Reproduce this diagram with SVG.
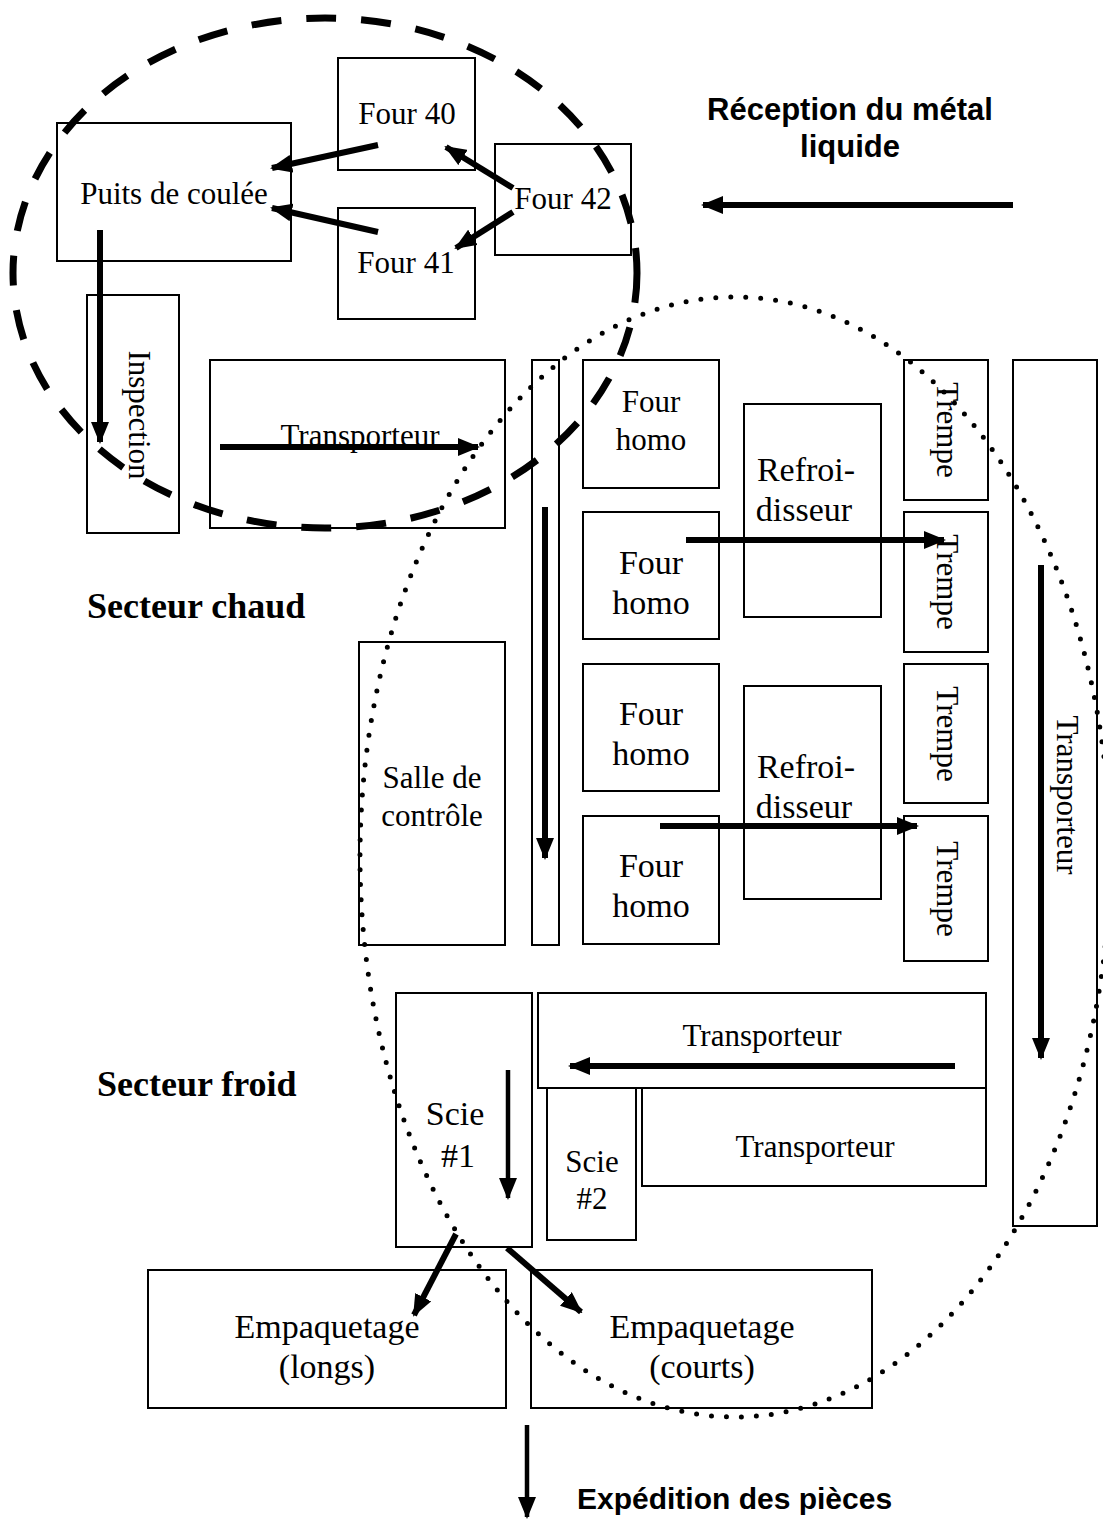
<svg xmlns="http://www.w3.org/2000/svg" width="1103" height="1519" viewBox="0 0 1103 1519">
<defs>
<style>
.box{fill:none;stroke:#000;stroke-width:2}
.lbl{font-family:"Liberation Serif","Times New Roman",serif;font-size:31px;fill:#000;text-anchor:middle}
.big{font-size:34px}
.sect{font-family:"Liberation Serif","Times New Roman",serif;font-size:36px;font-weight:bold;fill:#000}
.note{font-family:"Liberation Sans",Arial,sans-serif;font-weight:bold;fill:#000}
.arr{stroke:#000;stroke-width:6;fill:none;marker-end:url(#ah)}
.thin{stroke-width:4.5}
.zone{fill:none;stroke:#000}
</style>
<marker id="ah" viewBox="0 0 22 18" refX="20" refY="9" markerWidth="22" markerHeight="18" markerUnits="userSpaceOnUse" orient="auto">
<path d="M0,0 L22,9 L0,18 z" fill="#000"/>
</marker>
</defs>
<rect width="1103" height="1519" fill="#fff"/>

<g id="four40"><rect class="box" x="338" y="58" width="137" height="112"/><text class="lbl" x="407" y="124">Four 40</text></g>
<g id="puits"><rect class="box" x="57" y="123" width="234" height="138"/><text class="lbl" x="174" y="204">Puits de coulée</text></g>
<g id="four42"><rect class="box" x="495" y="144" width="136" height="111"/><text class="lbl" x="563" y="209">Four 42</text></g>
<g id="four41"><rect class="box" x="338" y="208" width="137" height="111"/><text class="lbl" x="406" y="273">Four 41</text></g>
<g id="inspection"><rect class="box" x="87" y="295" width="92" height="238"/><text class="lbl" x="129" y="415" transform="rotate(90 129 415)">Inspection</text></g>
<g id="transporteur1"><rect class="box" x="210" y="360" width="295" height="168"/><text class="lbl" x="360" y="446" font-size="33">Transporteur</text></g>
<g id="convoyeur"><rect class="box" x="532" y="360" width="27" height="585"/></g>
<g id="fourhomo1"><rect class="box" x="583" y="360" width="136" height="128"/><text class="lbl" x="651" y="412">Four</text><text class="lbl" x="651" y="450">homo</text></g>
<g id="fourhomo2"><rect class="box" x="583" y="512" width="136" height="127"/><text class="lbl big" x="651" y="574">Four</text><text class="lbl big" x="651" y="614">homo</text></g>
<g id="fourhomo3"><rect class="box" x="583" y="664" width="136" height="127"/><text class="lbl big" x="651" y="725">Four</text><text class="lbl big" x="651" y="765">homo</text></g>
<g id="fourhomo4"><rect class="box" x="583" y="816" width="136" height="128"/><text class="lbl big" x="651" y="877">Four</text><text class="lbl big" x="651" y="917">homo</text></g>
<g id="refroidisseur1"><rect class="box" x="744" y="404" width="137" height="213"/><text class="lbl big" x="806" y="481">Refroi-</text><text class="lbl big" x="804" y="521">disseur</text></g>
<g id="refroidisseur2"><rect class="box" x="744" y="686" width="137" height="213"/><text class="lbl big" x="806" y="778">Refroi-</text><text class="lbl big" x="804" y="818">disseur</text></g>
<g id="trempe1"><rect class="box" x="904" y="360" width="84" height="140"/><text class="lbl" x="937" y="430" font-size="32" transform="rotate(90 937 430)">Trempe</text></g>
<g id="trempe2"><rect class="box" x="904" y="512" width="84" height="140"/><text class="lbl" x="937" y="582" font-size="32" transform="rotate(90 937 582)">Trempe</text></g>
<g id="trempe3"><rect class="box" x="904" y="664" width="84" height="139"/><text class="lbl" x="937" y="734" font-size="32" transform="rotate(90 937 734)">Trempe</text></g>
<g id="trempe4"><rect class="box" x="904" y="816" width="84" height="145"/><text class="lbl" x="937" y="889" font-size="32" transform="rotate(90 937 889)">Trempe</text></g>
<g id="transporteur2"><rect class="box" x="1013" y="360" width="84" height="866"/><text class="lbl" x="1057" y="795" transform="rotate(90 1057 795)">Transporteur</text></g>
<g id="salle"><rect class="box" x="359" y="642" width="146" height="303"/><text class="lbl" x="432" y="788">Salle de</text><text class="lbl" x="432" y="826">contrôle</text></g>
<g id="scie1"><rect class="box" x="396" y="993" width="136" height="254"/><text class="lbl big" x="455" y="1125">Scie</text><text class="lbl big" x="458" y="1167">#1</text></g>
<g id="transporteur3"><rect class="box" x="538" y="993" width="448" height="95"/><text class="lbl" x="762" y="1046">Transporteur</text></g>
<g id="scie2"><rect class="box" x="547" y="1088" width="89" height="152"/><text class="lbl" x="592" y="1172">Scie</text><text class="lbl" x="592" y="1209">#2</text></g>
<g id="transporteur4"><rect class="box" x="642" y="1088" width="344" height="98"/><text class="lbl" x="815" y="1157">Transporteur</text></g>
<g id="empaq_longs"><rect class="box" x="148" y="1270" width="358" height="138"/><text class="lbl big" x="327" y="1338">Empaquetage</text><text class="lbl big" x="327" y="1378">(longs)</text></g>
<g id="empaq_courts"><rect class="box" x="531" y="1270" width="341" height="138"/><text class="lbl big" x="702" y="1338">Empaquetage</text><text class="lbl big" x="702" y="1378">(courts)</text></g>

<g id="labels">
<text class="note" x="850" y="120" font-size="31" text-anchor="middle">Réception du métal</text>
<text class="note" x="850" y="157" font-size="31" text-anchor="middle">liquide</text>
<text class="sect" x="87" y="618">Secteur chaud</text>
<text class="sect" x="97" y="1096">Secteur froid</text>
<text class="note" x="577" y="1509" font-size="30">Expédition des pièces</text>
</g>

<g id="connectors">
<line class="arr" x1="378" y1="145" x2="272" y2="168"/>
<line class="arr" x1="378" y1="232" x2="272" y2="208"/>
<line class="arr" x1="513" y1="188" x2="446" y2="147"/>
<line class="arr" x1="513" y1="212" x2="456" y2="248"/>
<line class="arr" x1="100" y1="230" x2="100" y2="442"/>
<line class="arr" x1="220" y1="447" x2="478" y2="447"/>
<line class="arr" x1="545" y1="507" x2="545" y2="858"/>
<line class="arr" x1="686" y1="540" x2="944" y2="540"/>
<line class="arr" x1="660" y1="826" x2="917" y2="826"/>
<line class="arr" x1="1041" y1="565" x2="1041" y2="1058"/>
<line class="arr" x1="955" y1="1066" x2="570" y2="1066"/>
<line class="arr thin" x1="508" y1="1070" x2="508" y2="1198"/>
<line class="arr" x1="456" y1="1234" x2="414" y2="1315"/>
<line class="arr" x1="507" y1="1248" x2="581" y2="1312"/>
<line class="arr thin" x1="527" y1="1425" x2="527" y2="1517"/>
<line class="arr" x1="1013" y1="205" x2="703" y2="205"/>
</g>

<g id="zones">
<ellipse class="zone" cx="325" cy="273" rx="312" ry="255" stroke-width="7" stroke-dasharray="30 25"/>
<ellipse class="zone" cx="735" cy="857" rx="375" ry="560" stroke-width="5" stroke-dasharray="0 15" stroke-linecap="round"/>
</g>
</svg>
